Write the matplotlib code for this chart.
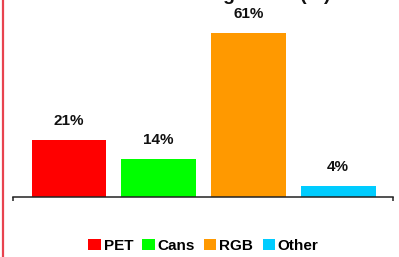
import matplotlib
matplotlib.use("Agg")
import matplotlib.pyplot as plt
from matplotlib.lines import Line2D
from matplotlib.patches import Patch

categories = ["PET", "Cans", "RGB", "Other"]
values = [21, 14, 61, 4]
labels = ["21%", "14%", "61%", "4%"]
colors = ["#FF0000", "#00FF00", "#FF9900", "#00CCFF"]
title = "Container Packing Share (%)"

plt.rcParams['font.family'] = ['Liberation Sans', 'DejaVu Sans']

W, H = 399, 257
fig = plt.figure(figsize=(W / 100, H / 100), dpi=100)
ax = fig.add_axes([13 / W, 60.5 / H, 380 / W, 196.5 / H])

x = list(range(len(categories)))
bars = ax.bar(x, values, width=0.836, color=colors, zorder=2)
ax.set_xlim(-0.6245, 3.613)
ax.set_ylim(0, 73.3)

for xi, v, lab in zip(x, values, labels):
    ax.annotate(lab, (xi, v), xytext=(0, 12), textcoords='offset pixels',
                ha='center', va='bottom', fontsize=11, fontweight='bold',
                color='#111111')

for s in ['top', 'right', 'left']:
    ax.spines[s].set_visible(False)
ax.spines['bottom'].set_color('#222222')
ax.spines['bottom'].set_linewidth(1.1)
ax.set_yticks([])
xl, xr = ax.get_xlim()
ax.set_xticks([xl + 0.004, xr - 0.004])
ax.set_xticklabels(["", ""])
ax.tick_params(axis='x', direction='out', length=3, width=1.1, color='#222222')

handles = [Patch(facecolor=c, edgecolor='none') for c in colors]
leg = fig.legend(handles, categories, loc='center', bbox_to_anchor=(0.51, 0.043),
                 ncol=4, frameon=False, handlelength=0.8, handleheight=0.75,
                 handletextpad=0.2, columnspacing=0.6,
                 prop={'weight': 'bold', 'size': 11})

fig.text(330 / W, 1.0 + 0.5 / H, title, ha='right', va='baseline', fontsize=14,
         fontweight='bold', color='#111111')

fig.add_artist(Line2D([2.5 / W, 2.5 / W], [0, 1], transform=fig.transFigure,
                      color='#E8434F', linewidth=1.6))

fig.savefig("out.png", dpi=100)
